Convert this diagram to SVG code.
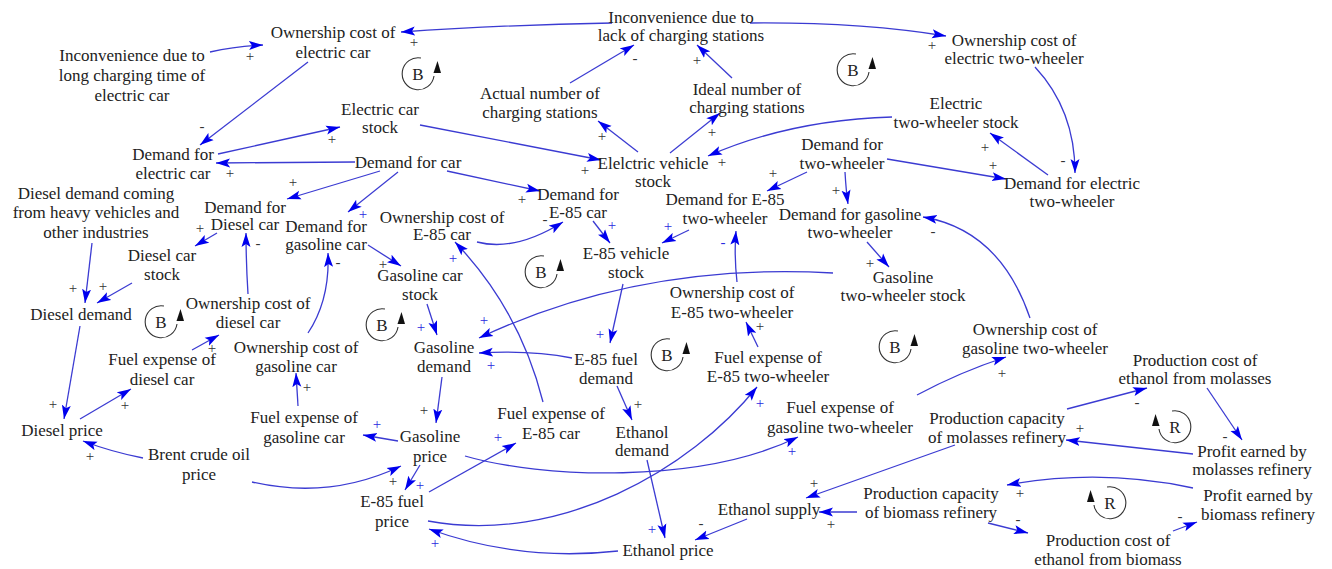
<svg xmlns="http://www.w3.org/2000/svg" xmlns:xlink="http://www.w3.org/1999/xlink" width="1332" height="569" viewBox="0 0 1332 569">
<style>
.n text{font-family:"Liberation Serif","Times New Roman",serif;font-size:17px;fill:#222;text-anchor:middle}
.c path{fill:none;stroke:#3b3bd2;stroke-width:1.3;marker-end:url(#ah)}
.s text{font-family:"Liberation Serif","Times New Roman",serif;font-size:15px;text-anchor:middle;fill:#333}
.s text.b{fill:#2a2ae0}
.lp text{font-family:"Liberation Serif","Times New Roman",serif;font-size:17px;fill:#222;text-anchor:middle}
.arc{fill:none;stroke:#333;stroke-width:1.1}
</style>
<defs>
<marker id="ah" markerUnits="userSpaceOnUse" markerWidth="15" markerHeight="10" refX="14" refY="5" orient="auto">
<path d="M0,0.5 L14,5 L0,9.5 L3,5 z" fill="#0000ee"/>
</marker>
<g id="loopB">
<path class="arc" d="M3,-16 A16,16 0 1 0 16,2"/>
<polygon points="19.5,-13 15.5,-1 23,-1" fill="#111"/>
</g>
</defs>
<rect width="1332" height="569" fill="#fff"/>

<g class="c" id="connectors">
<path d="M210,52 Q236,46 263,45"/>
<path d="M612,23 Q500,25 401,32"/>
<path d="M750,23 Q860,22 946,36"/>
<path d="M308,62 L200,145"/>
<path d="M1035,67 Q1075,110 1075,173"/>
<path d="M570,83 L634,45"/>
<path d="M732,78 L697,45"/>
<path d="M638,152 L598,121"/>
<path d="M670,153 L720,113"/>
<path d="M420,125 L601,160"/>
<path d="M892,117 Q790,120 708,156"/>
<path d="M1048,175 L990,133"/>
<path d="M887,159 L1006,179"/>
<path d="M807,172 L767,191"/>
<path d="M845,172 Q846,190 848,204"/>
<path d="M355,162 L216,163"/>
<path d="M218,154 L340,127"/>
<path d="M380,171 L287,199"/>
<path d="M398,172 L348,212"/>
<path d="M447,171 L540,191"/>
<path d="M477,242 Q515,252 563,222"/>
<path d="M593,221 L610,243"/>
<path d="M689,230 L662,243"/>
<path d="M867,242 L889,267"/>
<path d="M737,282 Q734,255 736,231"/>
<path d="M758,347 L746,322"/>
<path d="M1030,318 Q1000,230 923,217"/>
<path d="M833,273 Q640,262 479,338"/>
<path d="M427,304 L437,335"/>
<path d="M623,284 L610,343"/>
<path d="M572,358 Q530,350 479,353"/>
<path d="M368,245 L401,266"/>
<path d="M217,233 L195,246"/>
<path d="M248,294 Q246,262 246,233"/>
<path d="M308,333 Q330,300 328,253"/>
<path d="M92,243 L85,303"/>
<path d="M132,283 L97,303"/>
<path d="M80,326 L64,419"/>
<path d="M192,350 L219,335"/>
<path d="M80,419 L131,389"/>
<path d="M143,458 Q112,452 83,441"/>
<path d="M252,482 Q330,500 401,466"/>
<path d="M420,465 L405,490"/>
<path d="M398,441 Q380,438 363,435"/>
<path d="M298,406 L296,373"/>
<path d="M465,456 C540,478 700,485 798,437"/>
<path d="M429,492 L516,443"/>
<path d="M543,402 Q520,310 455,242"/>
<path d="M428,521 C560,545 690,470 757,387"/>
<path d="M618,551 Q520,562 429,529"/>
<path d="M647,460 L665,538"/>
<path d="M617,386 L632,420"/>
<path d="M747,519 L695,540"/>
<path d="M955,445 L806,498"/>
<path d="M857,512 L819,512"/>
<path d="M1067,409 L1147,388"/>
<path d="M1207,388 L1242,440"/>
<path d="M1193,454 L1066,440"/>
<path d="M1193,488 Q1100,468 1007,485"/>
<path d="M988,523 L1028,533"/>
<path d="M1173,531 L1197,522"/>
<path d="M917,395 Q960,372 1006,357"/>
<path d="M442,377 L436,423"/>
</g>

<g class="s" id="signs">
<text x="250" y="61">+</text>
<text x="414" y="47">+</text>
<text x="932" y="50">+</text>
<text x="202" y="131">-</text>
<text x="1063" y="165">-</text>
<text x="635" y="63">-</text>
<text x="697" y="65">+</text>
<text x="602" y="141">+</text>
<text x="712" y="137">+</text>
<text x="585" y="175">+</text>
<text x="722" y="167">+</text>
<text x="985" y="152">+</text>
<text x="993" y="170">+</text>
<text x="773" y="178">+</text>
<text x="836" y="195">+</text>
<text x="230" y="178">+</text>
<text x="332" y="144">+</text>
<text x="293" y="187">+</text>
<text class="b" x="363" y="219">+</text>
<text x="522" y="204">+</text>
<text x="545" y="224">-</text>
<text class="b" x="612" y="230">+</text>
<text class="b" x="668" y="231">+</text>
<text x="870" y="268">+</text>
<text class="b" x="723" y="247">-</text>
<text x="760" y="331">+</text>
<text x="933" y="236">-</text>
<text class="b" x="484" y="325">+</text>
<text class="b" x="421" y="332">+</text>
<text class="b" x="600" y="339">+</text>
<text class="b" x="491" y="370">+</text>
<text x="383" y="269">+</text>
<text x="200" y="233">+</text>
<text x="258" y="248">-</text>
<text x="338" y="267">-</text>
<text x="73" y="293">+</text>
<text x="103" y="291">+</text>
<text x="53" y="409">+</text>
<text x="212" y="353">+</text>
<text x="125" y="410">+</text>
<text x="90" y="461">+</text>
<text x="393" y="486">+</text>
<text class="b" x="420" y="490">+</text>
<text class="b" x="377" y="429">+</text>
<text x="307" y="392">+</text>
<text class="b" x="792" y="456">+</text>
<text class="b" x="498" y="442">+</text>
<text class="b" x="453" y="263">+</text>
<text class="b" x="760" y="408">+</text>
<text class="b" x="435" y="548">+</text>
<text class="b" x="652" y="534">+</text>
<text x="638" y="409">+</text>
<text x="701" y="528">-</text>
<text x="814" y="488">+</text>
<text x="831" y="529">+</text>
<text x="1137" y="407">-</text>
<text x="1225" y="441">-</text>
<text x="1080" y="433">+</text>
<text x="1020" y="498">+</text>
<text x="1018" y="524">-</text>
<text x="1180" y="521">-</text>
<text x="1002" y="378">+</text>
<text x="424" y="415">+</text>
</g>

<g class="lp" id="loops">
<use xlink:href="#loopB" href="#loopB" transform="translate(418,74)"/><text x="418" y="80">B</text>
<use xlink:href="#loopB" href="#loopB" transform="translate(853,70)"/><text x="853" y="76">B</text>
<use xlink:href="#loopB" href="#loopB" transform="translate(161,322)"/><text x="161" y="328">B</text>
<use xlink:href="#loopB" href="#loopB" transform="translate(382,325)"/><text x="382" y="331">B</text>
<use xlink:href="#loopB" href="#loopB" transform="translate(541,272)"/><text x="541" y="278">B</text>
<use xlink:href="#loopB" href="#loopB" transform="translate(667,355)"/><text x="667" y="361">B</text>
<use xlink:href="#loopB" href="#loopB" transform="translate(895,347)"/><text x="895" y="353">B</text>
<use xlink:href="#loopB" href="#loopB" transform="translate(1175,427) scale(-1,1)"/><text x="1175" y="433">R</text>
<use xlink:href="#loopB" href="#loopB" transform="translate(1110,503) scale(-1,1)"/><text x="1110" y="509">R</text>
</g>

<g class="n" id="own_cost_ecar"><text x="333" y="38">Ownership cost of</text><text x="333" y="58">electric car</text></g>
<g class="n" id="inconv_long"><text x="132" y="61">Inconvenience due to</text><text x="132" y="81">long charging time of</text><text x="132" y="101">electric car</text></g>
<g class="n" id="inconv_lack"><text x="681" y="23">Inconvenience due to</text><text x="681" y="41">lack of charging stations</text></g>
<g class="n" id="own_cost_e2w"><text x="1014" y="46">Ownership cost of</text><text x="1014" y="64">electric two-wheeler</text></g>
<g class="n" id="actual_cs"><text x="540" y="99">Actual number of</text><text x="540" y="118">charging stations</text></g>
<g class="n" id="ideal_cs"><text x="747" y="95">Ideal number of</text><text x="747" y="113">charging stations</text></g>
<g class="n" id="ecar_stock"><text x="380" y="115">Electric car</text><text x="380" y="133">stock</text></g>
<g class="n" id="demand_car"><text x="408" y="168">Demand for car</text></g>
<g class="n" id="ev_stock"><text x="653" y="169">Elelctric vehicle</text><text x="653" y="187">stock</text></g>
<g class="n" id="e2w_stock"><text x="956" y="109">Electric</text><text x="956" y="128">two-wheeler stock</text></g>
<g class="n" id="demand_2w"><text x="842" y="150">Demand for</text><text x="842" y="169">two-wheeler</text></g>
<g class="n" id="demand_e2w"><text x="1072" y="189">Demand for electric</text><text x="1072" y="207">two-wheeler</text></g>
<g class="n" id="demand_ecar"><text x="173" y="160">Demand for</text><text x="173" y="179">electric car</text></g>
<g class="n" id="diesel_other"><text x="96" y="199">Diesel demand coming</text><text x="96" y="218">from heavy vehicles and</text><text x="96" y="238">other industries</text></g>
<g class="n" id="demand_diesel_car"><text x="245" y="213">Demand for</text><text x="245" y="230">Diesel car</text></g>
<g class="n" id="diesel_car_stock"><text x="162" y="261">Diesel car</text><text x="162" y="280">stock</text></g>
<g class="n" id="diesel_demand"><text x="81" y="320">Diesel demand</text></g>
<g class="n" id="own_cost_diesel"><text x="248" y="309">Ownership cost of</text><text x="248" y="328">diesel car</text></g>
<g class="n" id="demand_gas_car"><text x="326" y="232">Demand for</text><text x="326" y="250">gasoline car</text></g>
<g class="n" id="own_cost_e85car"><text x="442" y="223">Ownership cost of</text><text x="442" y="240">E-85 car</text></g>
<g class="n" id="demand_e85car"><text x="578" y="200">Demand for</text><text x="578" y="218">E-85 car</text></g>
<g class="n" id="e85_stock"><text x="626" y="259">E-85 vehicle</text><text x="626" y="278">stock</text></g>
<g class="n" id="gas_car_stock"><text x="420" y="281">Gasoline car</text><text x="420" y="300">stock</text></g>
<g class="n" id="gas_demand"><text x="444" y="353">Gasoline</text><text x="444" y="372">demand</text></g>
<g class="n" id="e85_fuel_demand"><text x="606" y="365">E-85 fuel</text><text x="606" y="384">demand</text></g>
<g class="n" id="demand_e85_2w"><text x="725" y="205">Demand for E-85</text><text x="725" y="224">two-wheeler</text></g>
<g class="n" id="demand_gas_2w"><text x="850" y="220">Demand for gasoline</text><text x="850" y="238">two-wheeler</text></g>
<g class="n" id="gas_2w_stock"><text x="903" y="283">Gasoline</text><text x="903" y="301">two-wheeler stock</text></g>
<g class="n" id="own_cost_e85_2w"><text x="732" y="298">Ownership cost of</text><text x="732" y="318">E-85 two-wheeler</text></g>
<g class="n" id="fuel_e85_2w"><text x="768" y="363">Fuel expense of</text><text x="768" y="382">E-85 two-wheeler</text></g>
<g class="n" id="own_cost_gas_2w"><text x="1035" y="335">Ownership cost of</text><text x="1035" y="354">gasoline two-wheeler</text></g>
<g class="n" id="prod_cost_mol"><text x="1195" y="366">Production cost of</text><text x="1195" y="384">ethanol from molasses</text></g>
<g class="n" id="fuel_gas_2w"><text x="840" y="413">Fuel expense of</text><text x="840" y="433">gasoline two-wheeler</text></g>
<g class="n" id="prod_cap_mol"><text x="997" y="424">Production capacity</text><text x="997" y="443">of molasses refinery</text></g>
<g class="n" id="profit_mol"><text x="1252" y="457">Profit earned by</text><text x="1252" y="475">molasses refinery</text></g>
<g class="n" id="prod_cap_bio"><text x="931" y="499">Production capacity</text><text x="931" y="518">of biomass refinery</text></g>
<g class="n" id="profit_bio"><text x="1258" y="501">Profit earned by</text><text x="1258" y="520">biomass refinery</text></g>
<g class="n" id="prod_cost_bio"><text x="1108" y="546">Production cost of</text><text x="1108" y="565">ethanol from biomass</text></g>
<g class="n" id="eth_supply"><text x="769" y="515">Ethanol supply</text></g>
<g class="n" id="eth_price"><text x="668" y="556">Ethanol price</text></g>
<g class="n" id="eth_demand"><text x="642" y="438">Ethanol</text><text x="642" y="456">demand</text></g>
<g class="n" id="fuel_e85car"><text x="551" y="419">Fuel expense of</text><text x="551" y="439">E-85 car</text></g>
<g class="n" id="gas_price"><text x="430" y="442">Gasoline</text><text x="430" y="462">price</text></g>
<g class="n" id="e85_price"><text x="392" y="507">E-85 fuel</text><text x="392" y="527">price</text></g>
<g class="n" id="fuel_gas_car"><text x="304" y="423">Fuel expense of</text><text x="304" y="443">gasoline car</text></g>
<g class="n" id="own_cost_gas_car"><text x="296" y="353">Ownership cost of</text><text x="296" y="372">gasoline car</text></g>
<g class="n" id="fuel_diesel"><text x="162" y="365">Fuel expense of</text><text x="162" y="385">diesel car</text></g>
<g class="n" id="diesel_price"><text x="62" y="436">Diesel price</text></g>
<g class="n" id="brent"><text x="199" y="460">Brent crude oil</text><text x="199" y="480">price</text></g>
</svg>
